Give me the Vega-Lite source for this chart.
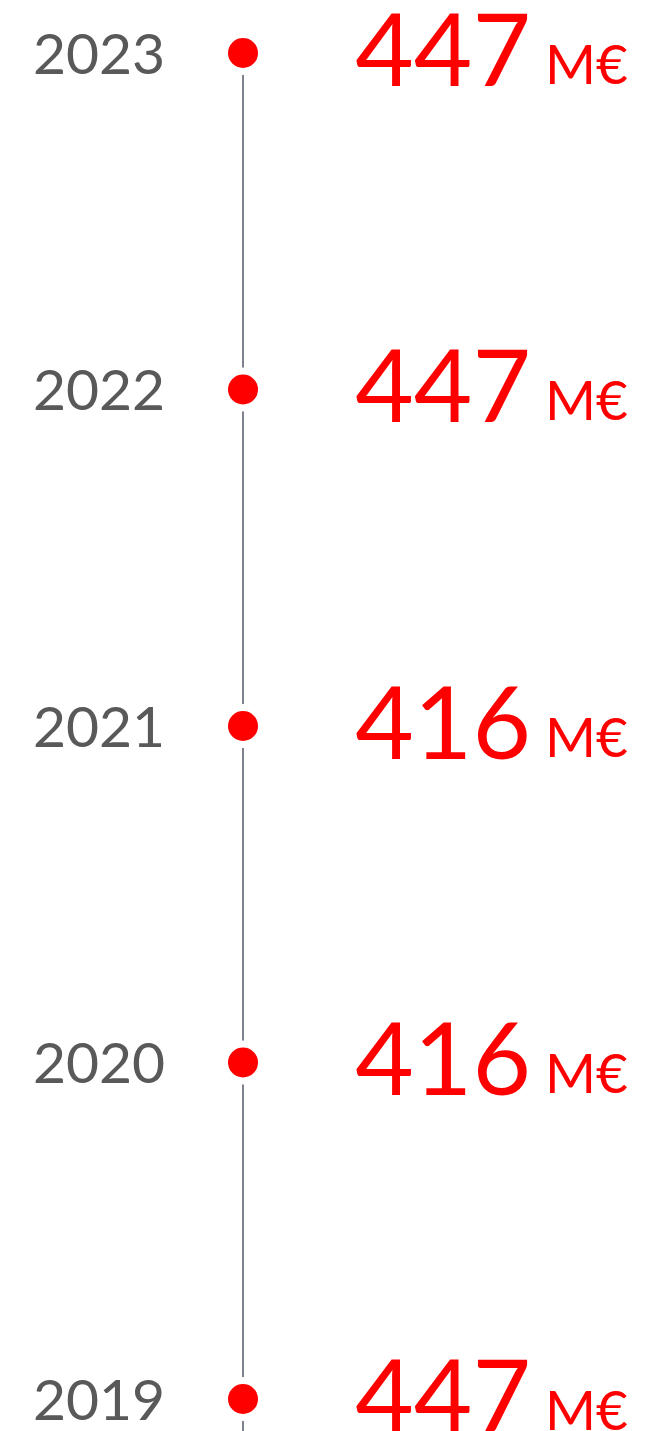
{
  "$schema": "https://vega.github.io/schema/vega-lite/v6.json",
  "width": 664,
  "height": 1431,
  "padding": 0,
  "autosize": {"type": "none"},
  "background": "white",
  "config": {"view": {"stroke": null}},
  "data": {"values": [
    {"year": 2023, "value": 447},
    {"year": 2022, "value": 447},
    {"year": 2021, "value": 416},
    {"year": 2020, "value": 416},
    {"year": 2019, "value": 447}
  ]},
  "encoding": {
    "y": {"field": "year", "type": "quantitative", "scale": {"domain": [2018.9049, 2023.1575], "zero": false, "nice": false}, "axis": null}
  },
  "layer": [
    {
      "mark": {"type": "rule", "color": "#7c828c", "strokeWidth": 1.2},
      "encoding": {
        "x": {"datum": 243, "type": "quantitative", "scale": {"domain": [0, 664], "nice": false, "zero": true}, "axis": null},
        "y": {"datum": 2023, "type": "quantitative"},
        "y2": {"datum": 2018.9}
      }
    },
    {
      "mark": {"type": "point", "filled": true, "color": "white", "opacity": 1, "size": 1936, "shape": "circle"},
      "encoding": {"x": {"datum": 243, "type": "quantitative"}}
    },
    {
      "mark": {"type": "point", "filled": true, "color": "#ff0000", "opacity": 1, "size": 900, "shape": "circle"},
      "encoding": {"x": {"datum": 243, "type": "quantitative"}}
    },
    {
      "mark": {"type": "text", "font": "Lato", "fontSize": 57, "color": "#595959", "align": "center", "baseline": "alphabetic", "dy": 21},
      "encoding": {
        "x": {"datum": 99, "type": "quantitative"},
        "text": {"field": "year", "type": "ordinal"}
      }
    },
    {
      "mark": {"type": "text", "font": "Lato", "fontSize": 101, "color": "#ff0000", "align": "right", "baseline": "alphabetic", "dy": 33},
      "encoding": {
        "x": {"datum": 531, "type": "quantitative"},
        "text": {"field": "value", "type": "ordinal"}
      }
    },
    {
      "mark": {"type": "text", "font": "Lato", "fontSize": 55, "color": "#ff0000", "align": "left", "baseline": "alphabetic", "dy": 31},
      "encoding": {
        "x": {"datum": 545, "type": "quantitative"},
        "text": {"value": "M€"}
      }
    }
  ]
}
